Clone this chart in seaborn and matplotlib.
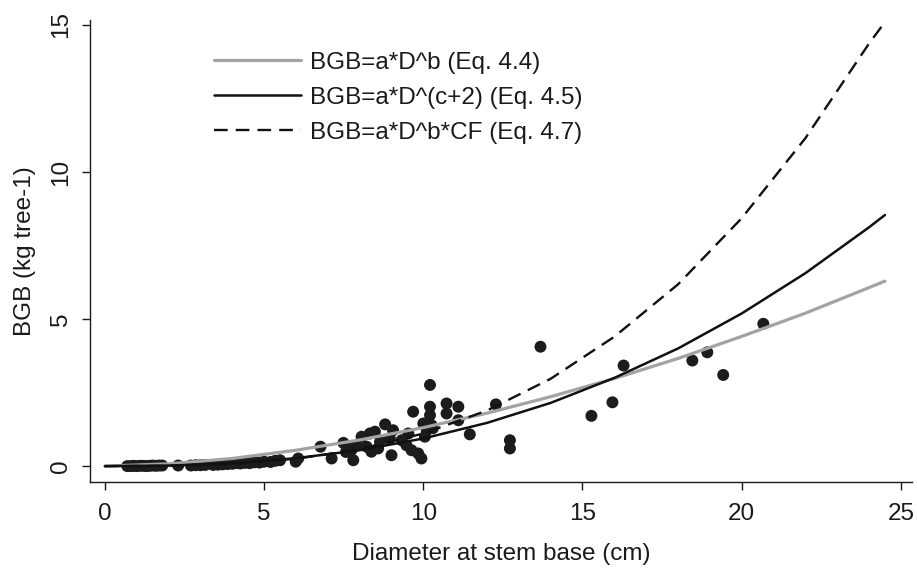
import numpy as np
import pandas as pd
import matplotlib
matplotlib.use("Agg")
import matplotlib.pyplot as plt
import seaborn as sns

# Observed trees: stem-base diameter (cm) and below-ground biomass (kg tree-1)
diameter = [0.7, 0.8, 0.9, 1.0, 1.1, 1.2, 1.3, 1.4, 1.5, 1.6, 1.7, 1.8,
            2.3, 2.7, 2.85, 3.0, 3.15, 3.4, 3.55, 3.7, 3.85, 4.0, 4.1,
            4.25, 4.4, 4.55, 4.7, 4.85, 5.0, 5.2, 5.35, 5.5, 5.99, 6.07,
            6.77, 7.12, 7.49, 7.57, 7.64, 7.74, 7.80, 7.90, 8.06, 8.22,
            8.32, 8.37, 8.48, 8.58, 8.64, 8.80, 8.95, 9.00, 9.05, 9.32,
            9.47, 9.53, 9.63, 9.68, 9.84, 9.94, 10.00, 10.05, 10.11, 10.21,
            10.21, 10.21, 10.26, 10.30, 10.73, 10.73, 11.10, 11.10, 11.46,
            12.28, 12.72, 12.72, 13.68, 15.28, 15.94, 16.29, 18.45, 18.92,
            19.42, 20.68]
bgb_obs = [0.00, 0.00, 0.01, 0.00, 0.01, 0.01, 0.00, 0.01, 0.02, 0.01, 0.02, 0.02,
           0.02, 0.02, 0.03, 0.03, 0.04, 0.04, 0.05, 0.06, 0.07, 0.08, 0.10,
           0.09, 0.11, 0.10, 0.13, 0.12, 0.15, 0.14, 0.18, 0.20, 0.15, 0.26,
           0.66, 0.26, 0.79, 0.48, 0.66, 0.54, 0.20, 0.71, 1.00, 0.66,
           1.11, 0.49, 1.17, 0.60, 0.83, 1.42, 0.94, 0.37, 1.22, 0.88,
           0.71, 1.11, 0.54, 1.85, 0.43, 0.26, 1.45, 1.00, 1.22, 2.76,
           2.02, 1.73, 1.39, 1.29, 2.13, 1.79, 2.02, 1.56, 1.08,
           2.10, 0.88, 0.60, 4.06, 1.71, 2.17, 3.42, 3.59, 3.87,
           3.10, 4.84]

# Fitted allometric curves evaluated along the diameter range
d_curve = [0, 2, 4, 6, 8, 10, 12, 14, 16, 18, 20, 22, 24, 24.5]
eq44 = [0, 0.078, 0.26, 0.54, 0.89, 1.31, 1.80, 2.36, 2.98, 3.66, 4.41, 5.20, 6.07, 6.29]
eq45 = [0, 0.018, 0.099, 0.27, 0.54, 0.94, 1.47, 2.15, 3.00, 4.00, 5.19, 6.56, 8.12, 8.54]
eq47 = [0, 0.010, 0.075, 0.25, 0.57, 1.11, 1.89, 2.97, 4.40, 6.18, 8.43, 11.15, 14.37, 15.1]

labels = ["BGB=a*D^b (Eq. 4.4)", "BGB=a*D^(c+2) (Eq. 4.5)", "BGB=a*D^b*CF (Eq. 4.7)"]
x_ticks = [0, 5, 10, 15, 20, 25]
y_ticks = [0, 5, 10, 15]

sns.set_theme(style="ticks")
plt.rcParams["font.family"] = ["Liberation Sans", "DejaVu Sans"]
plt.rcParams["text.color"] = "#1a1a1a"
plt.rcParams["axes.labelcolor"] = "#1a1a1a"
plt.rcParams["xtick.color"] = "#1a1a1a"
plt.rcParams["ytick.color"] = "#1a1a1a"

fs = 17.5
fig = plt.figure(figsize=(9.17, 5.71), dpi=100)
ax = fig.add_axes([90 / 917, 1 - 482 / 571, (912 - 90) / 917, (482 - 20) / 571])

obs = pd.DataFrame({"D": diameter, "BGB": bgb_obs})
sns.scatterplot(data=obs, x="D", y="BGB", ax=ax, color="#1c1c1c", s=74,
                edgecolor="none", linewidth=0, zorder=2, legend=False)

curves = pd.DataFrame({"D": d_curve, "e44": eq44, "e45": eq45, "e47": eq47})
sns.lineplot(data=curves, x="D", y="e44", ax=ax, color="#a3a3a3", lw=2.3,
             label=labels[0], zorder=3)
sns.lineplot(data=curves, x="D", y="e45", ax=ax, color="#111111", lw=1.8,
             label=labels[1], zorder=3)
sns.lineplot(data=curves, x="D", y="e47", ax=ax, color="#111111", lw=1.7,
             dashes=False, label=labels[2], zorder=3)
ax.lines[-1].set_dashes((5.8, 3.4))

ax.set_xlim(-0.47, 25.35)
ax.set_ylim(-0.54, 15.17)
ax.set_xticks(x_ticks)
ax.set_yticks(y_ticks)
ax.set_xlabel("Diameter at stem base (cm)", fontsize=fs, labelpad=13)
ax.set_ylabel("BGB (kg tree-1)", fontsize=fs, labelpad=10)
ax.tick_params(axis="both", direction="out", length=6, width=1.0, labelsize=fs)
ax.tick_params(axis="x", pad=9)
ax.tick_params(axis="y", pad=7)
for t in ax.get_yticklabels():
    t.set_rotation(90)
    t.set_va("center")
sns.despine(ax=ax)
for side in ("left", "bottom"):
    ax.spines[side].set_linewidth(1.0)
    ax.spines[side].set_color("#1a1a1a")

leg = ax.legend(loc="upper left", bbox_to_anchor=(0.13, 0.968), frameon=False,
                fontsize=fs, handlelength=3.6, handletextpad=0.35,
                labelspacing=0.53, borderpad=0.2)

fig.savefig("out.png", dpi=100)
